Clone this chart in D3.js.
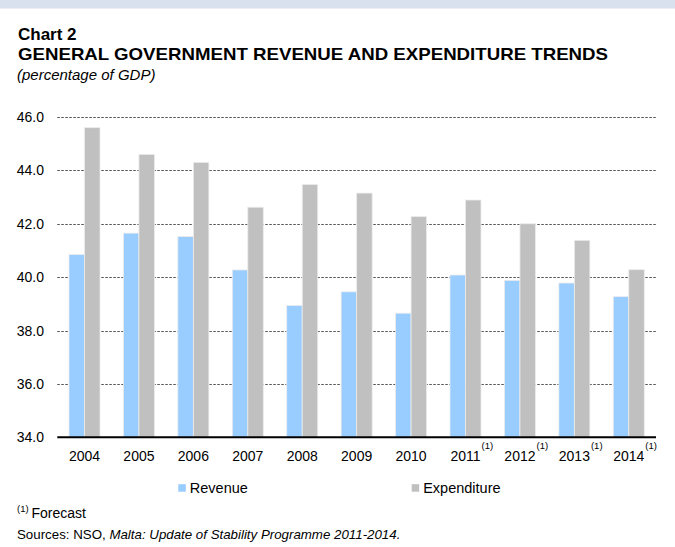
<!DOCTYPE html>
<html>
<head>
<meta charset="utf-8">
<script src="https://cdn.jsdelivr.net/npm/d3@7"></script>
<style>
  html, body { margin: 0; padding: 0; background: #fff; }
  svg { display: block; font-family: Arial, "Liberation Sans", sans-serif; }
</style>
</head>
<body>
<svg id="chart" width="675" height="547"></svg>
<script>
// ---- data ----
const categories = ["2004","2005","2006","2007","2008","2009","2010","2011","2012","2013","2014"];
const forecastFlags = [false,false,false,false,false,false,false,true,true,true,true];
const revenue     = [40.85, 41.65, 41.52, 40.27, 38.94, 39.45, 38.65, 40.08, 39.88, 39.78, 39.27];
const expenditure = [45.60, 44.60, 44.30, 42.62, 43.47, 43.15, 42.27, 42.89, 42.00, 41.38, 40.28];
const yTicks = [34, 36, 38, 40, 42, 44, 46];
const seriesNames = ["Revenue", "Expenditure"];
const seriesColors = ["#99ccff", "#c0c0c0"];

const svg = d3.select("#chart");

// top band
svg.append("rect").attr("x", 0).attr("y", 0).attr("width", 675).attr("height", 8.5).attr("fill", "#d9e1ee");

// titles
svg.append("text").attr("x", 18).attr("y", 40).attr("font-size", 17).attr("font-weight", "bold").attr("fill", "#000").text("Chart 2");
svg.append("text").attr("x", 18).attr("y", 59.5).attr("font-size", 17).attr("font-weight", "bold").attr("fill", "#000")
  .attr("textLength", 590).attr("lengthAdjust", "spacingAndGlyphs")
  .text("GENERAL GOVERNMENT REVENUE AND EXPENDITURE TRENDS");
svg.append("text").attr("x", 17).attr("y", 79.5).attr("font-size", 15).attr("font-style", "italic").attr("fill", "#000").text("(percentage of GDP)");

// scales
const x0 = d3.scaleBand().domain(categories).range([57.3, 656]).paddingInner(0).paddingOuter(0);
const barW = 15.5;
const x1 = d3.scaleBand().domain(seriesNames).range([x0.bandwidth()/2 - barW, x0.bandwidth()/2 + barW]).padding(0);
const y = d3.scaleLinear().domain([34, 46]).range([437.3, 117]);

// gridlines
const grid = svg.append("g");
grid.selectAll("line").data(yTicks.filter(t => t !== 34)).enter().append("line")
  .attr("x1", 57.3).attr("x2", 656)
  .attr("y1", d => Math.round(y(d)) + 0.5).attr("y2", d => Math.round(y(d)) + 0.5)
  .attr("stroke", "#555").attr("stroke-width", 1).attr("stroke-dasharray", "2.5,1.5");

// y axis labels
const yAxis = d3.axisLeft(y).tickValues(yTicks).tickFormat(d3.format(".1f")).tickSize(0).tickPadding(0);
const yg = svg.append("g").attr("transform", "translate(44,0)").call(yAxis);
yg.select(".domain").remove();
yg.selectAll("text").attr("font-size", 14).attr("fill", "#000").attr("font-family", "Arial, 'Liberation Sans', sans-serif");

// bars
const groups = svg.append("g").selectAll("g").data(categories).enter().append("g")
  .attr("transform", d => `translate(${x0(d)},0)`);
groups.selectAll("rect").data((d, i) => [
  { s: "Revenue", v: revenue[i] },
  { s: "Expenditure", v: expenditure[i] }
]).enter().append("rect")
  .attr("x", d => x1(d.s))
  .attr("y", d => y(d.v))
  .attr("width", x1.bandwidth())
  .attr("height", d => y(34) - y(d.v))
  .attr("fill", (d, i) => seriesColors[i])
  .attr("stroke", "#ececec").attr("stroke-width", 0.8);

// x axis line
const xAxis = d3.axisBottom(x0).tickSize(0).tickPadding(0);
const xg = svg.append("g").attr("transform", `translate(0,${y(34)})`).call(xAxis);
xg.select(".domain").attr("stroke", "#000").attr("stroke-width", 2).attr("d", `M57.3,0H656`);
xg.selectAll(".tick text").attr("font-size", 14).attr("fill", "#000").attr("y", 23.5).attr("dy", 0)
  .attr("font-family", "Arial, 'Liberation Sans', sans-serif");
// forecast superscripts
xg.selectAll(".tick").each(function(d, i) {
  if (!forecastFlags[i]) return;
  const t = d3.select(this).select("text");
  const w = t.node().getComputedTextLength();
  d3.select(this).append("text").attr("x", w/2 + 1).attr("y", 12).attr("font-size", 9.5)
    .attr("fill", "#000").attr("text-anchor", "start").attr("font-family", "Arial, 'Liberation Sans', sans-serif").text("(1)");
});

// legend
const legendX = [178.3, 411.7];
const legend = svg.append("g");
seriesNames.forEach((name, i) => {
  legend.append("rect").attr("x", legendX[i]).attr("y", 484.2).attr("width", 7.5).attr("height", 7.5).attr("fill", seriesColors[i]);
  legend.append("text").attr("x", legendX[i] + 11.5).attr("y", 493).attr("font-size", 14.5).attr("fill", "#000").text(name);
});

// footnotes
svg.append("text").attr("x", 17).attr("y", 512).attr("font-size", 9.5).attr("fill", "#000").text("(1)");
svg.append("text").attr("x", 31.5).attr("y", 518).attr("font-size", 14).attr("fill", "#000").text("Forecast");
const src = svg.append("text").attr("x", 17).attr("y", 539).attr("font-size", 13.3).attr("fill", "#000");
src.append("tspan").text("Sources: NSO, ");
src.append("tspan").attr("font-style", "italic").text("Malta: Update of Stability Programme 2011-2014.");
</script>
</body>
</html>
